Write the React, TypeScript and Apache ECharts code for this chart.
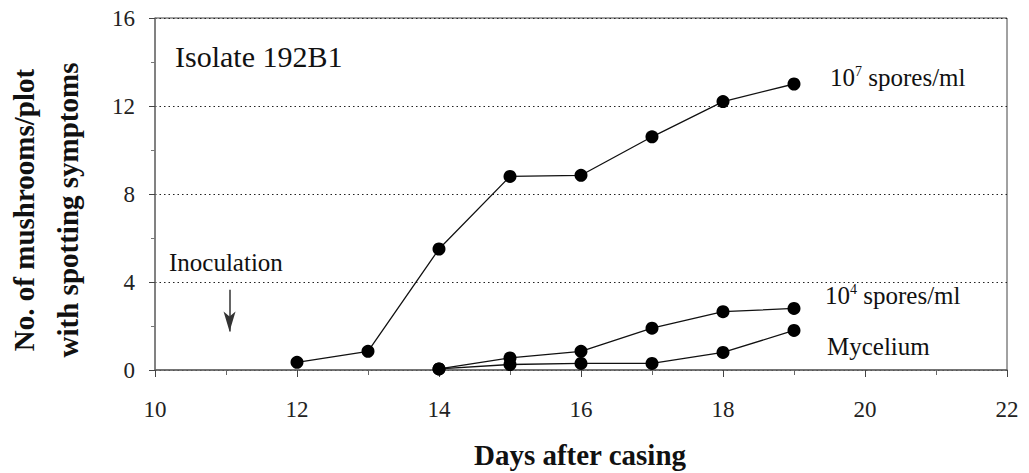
import React, { useEffect, useRef } from "react";
import * as echarts from "echarts";

// Days after casing and mushrooms per plot showing spotting symptoms
const days = [12, 13, 14, 15, 16, 17, 18, 19];
const spores1e7 = [0.35, 0.85, 5.5, 8.8, 8.85, 10.6, 12.2, 13.0];
const daysLater = [14, 15, 16, 17, 18, 19];
const spores1e4 = [0.05, 0.55, 0.85, 1.9, 2.65, 2.8];
const mycelium = [0.05, 0.25, 0.3, 0.3, 0.8, 1.8];

// Inoculation arrow (day, value) from tail to head
const inoculationArrow = [
  [11.05, 3.65],
  [11.05, 1.75],
];

const yTicks = [0, 4, 8, 12, 16];
const xTicks = [10, 12, 14, 16, 18, 20, 22];

const SERIF = "Liberation Serif";

const pairs = (xs: number[], ys: number[]) => xs.map((x, i) => [x, ys[i]]);

const label = (x: number, y: number, text: string, size: number) => ({
  type: "text",
  x,
  y,
  style: {
    text,
    fontFamily: SERIF,
    fontSize: size,
    fill: "#111",
    verticalAlign: "middle",
  },
});

const supRich = {
  a: { fontFamily: SERIF, fontSize: 25, fill: "#111" },
  s: { fontFamily: SERIF, fontSize: 14, fill: "#111", verticalAlign: "top" },
};

export default function App() {
  const ref = useRef<HTMLDivElement>(null);

  useEffect(() => {
    if (!ref.current) return;
    const chart = echarts.init(ref.current, undefined, { renderer: "svg" });

    const lineSeries = (name: string, data: number[][]) => ({
      name,
      type: "line",
      data,
      symbol: "circle",
      symbolSize: 13,
      itemStyle: { color: "#000" },
      lineStyle: { color: "#111", width: 1.3 },
      z: 3,
    });

    chart.setOption({
      animation: false,
      backgroundColor: "#fff",
      grid: {
        left: 155,
        right: 22,
        top: 18,
        bottom: 103,
        show: true,
        borderColor: "#444",
        borderWidth: 1,
      },
      xAxis: {
        type: "value",
        min: xTicks[0],
        max: xTicks[xTicks.length - 1],
        interval: 2,
        axisLine: { show: true, lineStyle: { color: "#666", width: 1.5 } },
        axisTick: { show: true, inside: false, length: 7, lineStyle: { color: "#444" } },
        minorTick: { show: true, splitNumber: 2, length: 5, lineStyle: { color: "#666" } },
        splitLine: { show: false },
        axisLabel: {
          color: "#222",
          fontFamily: SERIF,
          fontSize: 23,
          margin: 28,
        },
      },
      yAxis: {
        type: "value",
        min: yTicks[0],
        max: yTicks[yTicks.length - 1],
        interval: 4,
        axisLine: { show: true, lineStyle: { color: "#777", width: 1.5 } },
        axisTick: { show: true, inside: false, length: 6, lineStyle: { color: "#444" } },
        minorTick: { show: true, splitNumber: 2, length: 4, lineStyle: { color: "#777" } },
        splitLine: {
          show: true,
          lineStyle: { color: "#222", type: [1.5, 3], width: 1 },
        },
        axisLabel: {
          color: "#222",
          fontFamily: SERIF,
          fontSize: 23,
          margin: 20,
        },
      },
      series: [
        lineSeries("10^7 spores/ml", pairs(days, spores1e7)),
        lineSeries("10^4 spores/ml", pairs(daysLater, spores1e4)),
        lineSeries("Mycelium", pairs(daysLater, mycelium)),
        {
          name: "Inoculation",
          type: "line",
          data: [],
          markLine: {
            silent: true,
            symbol: ["none", "arrow"],
            symbolSize: [9, 20],
            label: { show: false },
            lineStyle: { color: "#333", type: "solid", width: 1.5 },
            data: [[{ coord: inoculationArrow[0] }, { coord: inoculationArrow[1] }]],
          },
        },
      ],
      graphic: [
        label(175, 56, "Isolate 192B1", 30),
        label(169, 262, "Inoculation", 25),
        {
          type: "text",
          x: 830,
          y: 77,
          style: {
            text: "{a|10}{s|7}{a| spores/ml}",
            fill: "#111",
            verticalAlign: "middle",
            rich: supRich,
          },
        },
        {
          type: "text",
          x: 825,
          y: 295,
          style: {
            text: "{a|10}{s|4}{a| spores/ml}",
            fill: "#111",
            verticalAlign: "middle",
            rich: supRich,
          },
        },
        label(827, 346, "Mycelium", 25),
        {
          type: "text",
          x: 46,
          y: 210,
          rotation: Math.PI / 2,
          style: {
            text: "No. of mushrooms/plot\nwith spotting symptoms",
            fontFamily: SERIF,
            fontWeight: "bold",
            fontSize: 29,
            fill: "#111",
            align: "center",
            verticalAlign: "middle",
            lineHeight: 44,
          },
        },
        {
          type: "text",
          x: 580,
          y: 455,
          style: {
            text: "Days after casing",
            fontFamily: SERIF,
            fontWeight: "bold",
            fontSize: 29,
            fill: "#111",
            align: "center",
            verticalAlign: "middle",
          },
        },
      ],
    });

    return () => chart.dispose();
  }, []);

  return <div ref={ref} style={{ width: 1029, height: 473, position: "absolute", left: 0, top: 0 }} />;
}
